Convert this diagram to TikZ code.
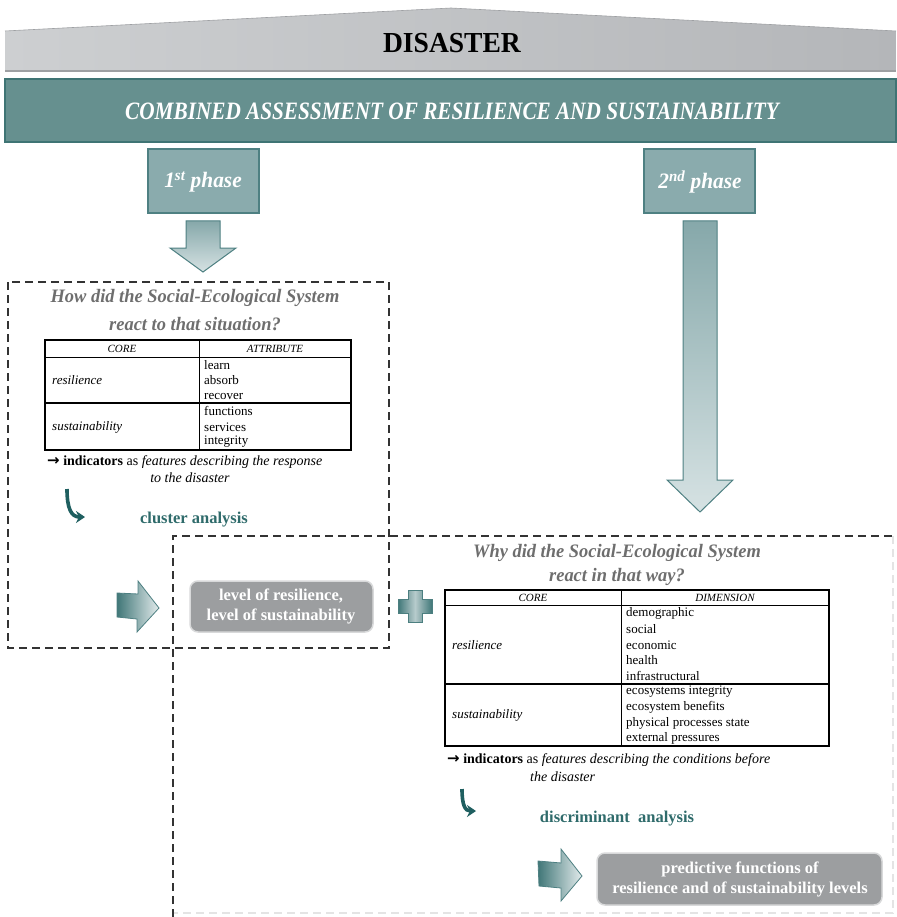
\documentclass[tikz,border=0pt]{standalone}
\usepackage{fontspec}
\setmainfont{Liberation Serif}
\newfontfamily\condfont{Liberation Serif}[FakeStretch=0.85]
\newfontfamily\titlefont{Liberation Serif}[FakeStretch=0.95]
\newfontfamily\headfont{Liberation Serif}[FakeStretch=0.97]
\newfontfamily\arrowfont{DejaVu Sans}
\usetikzlibrary{arrows.meta,shadings}

\definecolor{roofL}{HTML}{CDCFD1}
\definecolor{roofR}{HTML}{B4B6B9}
\definecolor{roofline}{HTML}{9EA0A3}
\definecolor{band}{HTML}{66908F}
\definecolor{bandline}{HTML}{3F7474}
\definecolor{phasefill}{HTML}{8AABAD}
\definecolor{phaseline}{HTML}{4E8082}
\definecolor{arrowtop}{HTML}{86A8AA}
\definecolor{arrowbot}{HTML}{D6E2E3}
\definecolor{deepteal}{HTML}{1F5F60}
\definecolor{labelteal}{HTML}{2F6B6B}
\definecolor{greybox}{HTML}{9C9EA0}
\definecolor{greyrim}{HTML}{D8D9DA}
\definecolor{asktext}{HTML}{6E6E6E}
\definecolor{frame}{HTML}{333333}
\definecolor{faintframe}{HTML}{E4E4E4}

\newcommand{\toarrow}{{\arrowfont\bfseries\fontsize{15}{16}\selectfont →}}

\tikzset{
  phasebox/.style={draw=phaseline, line width=1.2pt, fill=phasefill},
  downarrow/.style={draw=phaseline, line width=1pt, top color=arrowtop, bottom color=arrowbot},
  rightarrow/.style={draw=phaseline, line width=0.8pt, left color=deepteal!85, right color=arrowbot!70},
  plusshape/.style={draw=deepteal!80, line width=1pt, left color=deepteal!85, right color=deepteal!85, middle color=arrowtop!60},
  dashframe/.style={draw=frame, line width=1.6pt, dash pattern=on 8pt off 5pt},
  faintdash/.style={draw=faintframe, line width=1.6pt, dash pattern=on 8pt off 5pt},
  tableline/.style={draw=black, line width=0.8pt},
  tableouter/.style={draw=black, line width=1.6pt},
  asktitle/.style={text=asktext, font=\headfont\bfseries\itshape\fontsize{19}{22}\selectfont},
  cell/.style={anchor=west, inner sep=0pt, font=\fontsize{13}{15}\selectfont},
  corecell/.style={anchor=west, inner sep=0pt, font=\itshape\fontsize{13}{15}\selectfont},
  headcell/.style={inner sep=0pt, font=\itshape\fontsize{11}{12}\selectfont},
  note/.style={anchor=west, inner sep=0pt, font=\fontsize{14}{16}\selectfont},
  method/.style={text=labelteal, font=\bfseries\fontsize{16.5}{18}\selectfont},
  resultbox/.style={draw=greyrim, line width=1.5pt, fill=greybox, rounded corners=8pt},
  resulttext/.style={text=white, align=center, font=\bfseries\fontsize{16.5}{20}\selectfont},
  curlarrow/.style={draw=deepteal, line width=3.6pt, -{Stealth[length=9pt,width=12pt]}},
}

\begin{document}
\begin{tikzpicture}[x=1pt,y=-1pt]
\useasboundingbox (0,0) rectangle (896,917);

% roof with the event
\shade[left color=roofL, right color=roofR] (5,31) -- (451,8) -- (896,31) -- (896,71) -- (5,71) -- cycle;
\draw[roofline, line width=0.6pt] (5,31) -- (451,8) -- (896,31);
\draw[roofline, line width=1.8pt] (5,71) -- (896,71);
\node (disaster) at (452,43) {\titlefont\bfseries\fontsize{29}{32}\selectfont DISASTER};

% assessment band
\draw[fill=band, draw=bandline, line width=1.2pt] (5,79) rectangle (896,142);
\node[text=white] (assess) at (452,111) {\condfont\bfseries\itshape\fontsize{25}{28}\selectfont COMBINED ASSESSMENT OF RESILIENCE AND SUSTAINABILITY};

% phases
\draw[phasebox] (148,149) rectangle (259,213);
\node[text=white] (ph1) at (203,182) {\headfont\bfseries\itshape\fontsize{22}{24}\selectfont 1\textsuperscript{st} phase};
\draw[phasebox] (644,149) rectangle (755,213);
\node[text=white] (ph2) at (700,182) {\headfont\bfseries\itshape\fontsize{22}{24}\selectfont 2\textsuperscript{nd} phase};

\draw[downarrow] (186,221) -- (220,221) -- (220,248) -- (236,248) -- (203,272) -- (170,248) -- (186,248) -- cycle;
\draw[downarrow] (683,221) -- (717,221) -- (717,480) -- (733,480) -- (700,512) -- (667,480) -- (683,480) -- cycle;

% frames of the two phases
\draw[dashframe] (8,282) rectangle (389,648);
\draw[faintdash] (893,536) -- (893,913) -- (173,913);
\draw[dashframe] (173,917) -- (173,536) -- (893,536);

% ---- first phase ----
\node[asktitle] (q1a) at (195,298) {How did the Social-Ecological System};
\node[asktitle] (q1b) at (195,324) {react to that situation?};

\draw[tableouter] (45,340) rectangle (351,450);
\draw[tableline] (45,357) -- (351,357);
\draw[tableouter] (45,403) -- (351,403);
\draw[tableline] (199,340) -- (199,450);
\node[headcell] (h1a) at (122,349) {CORE};
\node[headcell] (h1b) at (275,349) {ATTRIBUTE};
\node[corecell] (r1) at (52,380) {resilience};
\node[corecell] (s1) at (52,427) {sustainability};
\node[cell] at (204,365) {learn};
\node[cell] at (204,380) {absorb};
\node[cell] at (204,396) {recover};
\node[cell] at (204,411) {functions};
\node[cell] at (204,427) {services};
\node[cell] at (204,442) {integrity};

\node[note] (ind1) at (47,462) {\toarrow\ \textbf{indicators} as \textit{features describing the response}};
\node[note, anchor=center] (ind1b) at (190,478) {\textit{to the disaster}};

\coordinate (b1s) at (67,489);
\coordinate (b1e) at (85,517);
\draw[curlarrow] (b1s) .. controls (67,508) and (71,517) .. (b1e);
\node[method] (cluster) at (194,520) {cluster analysis};

\draw[rightarrow] (117,593) -- (138,594) -- (138,581) -- (159,608) -- (137,632) -- (137,619) -- (117,617) -- cycle;
\draw[resultbox] (190,581) rectangle (373,632);
\node[resulttext] (lvl) at (281,606) {level of resilience,\\level of sustainability};

\draw[plusshape] (408,590) -- (422,590) -- (422,599) -- (432,599) -- (432,613) -- (422,613) -- (422,622) -- (408,622) -- (408,613) -- (398,613) -- (398,599) -- (408,599) -- cycle;

% ---- second phase ----
\node[asktitle] (q2a) at (617,553) {Why did the Social-Ecological System};
\node[asktitle] (q2b) at (617,577) {react in that way?};

\draw[tableouter] (445,590) rectangle (829,746);
\draw[tableline] (445,605) -- (829,605);
\draw[tableouter] (445,684) -- (829,684);
\draw[tableline] (621,590) -- (621,746);
\node[headcell] (h2a) at (533,598) {CORE};
\node[headcell] (h2b) at (725,598) {DIMENSION};
\node[corecell] (r2) at (452,645) {resilience};
\node[corecell] (s2) at (452,715) {sustainability};
\node[cell] at (626,613) {demographic};
\node[cell] at (626,629) {social};
\node[cell] at (626,645) {economic};
\node[cell] at (626,660) {health};
\node[cell] at (626,676) {infrastructural};
\node[cell] at (626,692) {ecosystems integrity};
\node[cell] at (626,707) {ecosystem benefits};
\node[cell] at (626,723) {physical processes state};
\node[cell] at (626,738) {external pressures};

\node[note] (ind2) at (447,760) {\toarrow\ \textbf{indicators} as \textit{features describing the conditions before}};
\node[note] (ind2b) at (530,777) {\textit{the disaster}};

\coordinate (b2s) at (462,789);
\coordinate (b2e) at (476,811);
\draw[curlarrow] (b2s) .. controls (462,805) and (465,811) .. (b2e);
\node[method] (discr) at (617,819) {discriminant\ \ analysis};

\draw[rightarrow] (538,861) -- (561,863) -- (561,849) -- (582,876) -- (561,901) -- (561,888) -- (539,886) -- cycle;
\draw[resultbox] (597,853) rectangle (882,905);
\node[resulttext] (pred) at (740,879) {predictive functions of\\resilience and of sustainability levels};
\end{tikzpicture}
\end{document}
